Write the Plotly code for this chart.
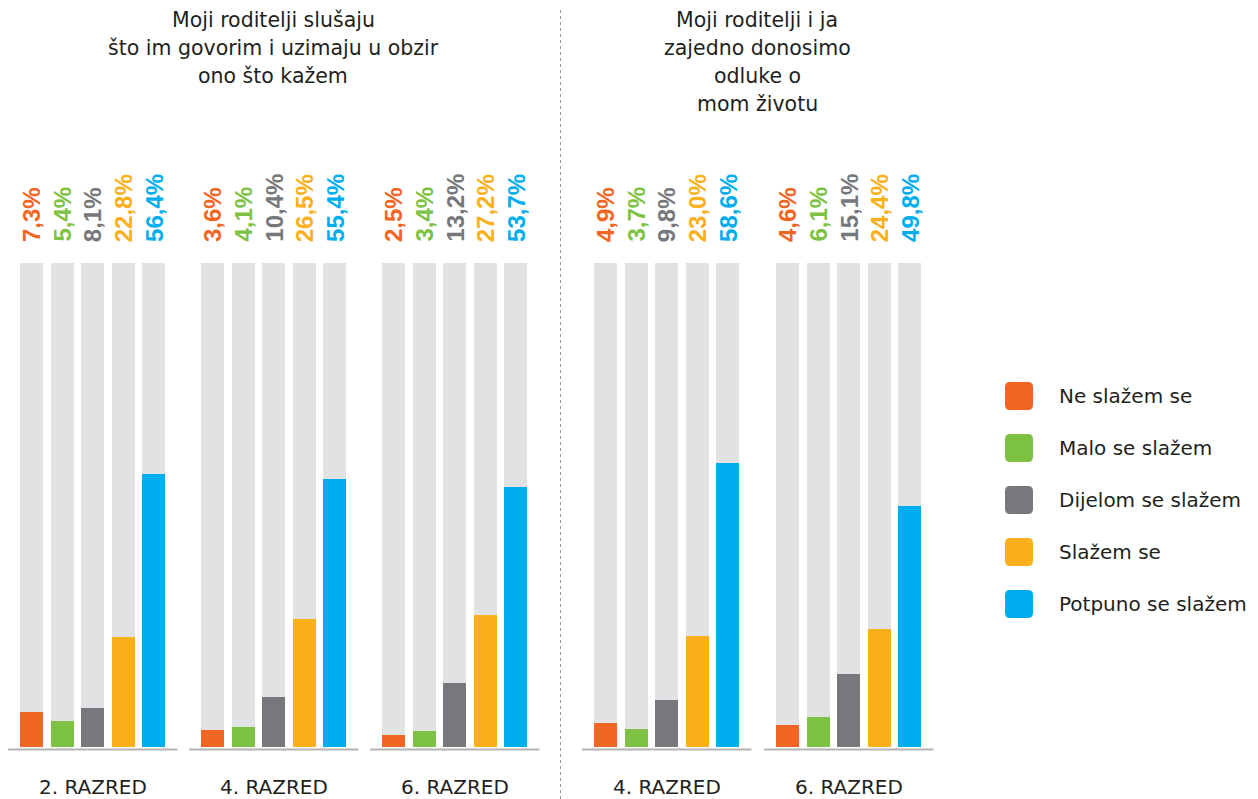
import plotly.graph_objects as go

# ---------------- data ----------------
categories = ["Ne slažem se", "Malo se slažem", "Dijelom se slažem", "Slažem se", "Potpuno se slažem"]
group_labels = ["2. RAZRED", "4. RAZRED", "6. RAZRED", "4. RAZRED", "6. RAZRED"]
panel_titles = [
    ["Moji roditelji slušaju", "što im govorim i uzimaju u obzir", "ono što kažem"],
    ["Moji roditelji i ja", "zajedno donosimo", "odluke o", "mom životu"],
]
ne_slazem = [7.3, 3.6, 2.5, 4.9, 4.6]
malo_slazem = [5.4, 4.1, 3.4, 3.7, 6.1]
dijelom_slazem = [8.1, 10.4, 13.2, 9.8, 15.1]
slazem = [22.8, 26.5, 27.2, 23.0, 24.4]
potpuno_slazem = [56.4, 55.4, 53.7, 58.6, 49.8]
series = [ne_slazem, malo_slazem, dijelom_slazem, slazem, potpuno_slazem]

# ---------------- style / layout ----------------
colors = ["#f26522", "#7dc242", "#77787b", "#fbb01a", "#00aeef"]
bg_color = "#e1e2e4"
text_color = "#231f20"
W, H = 1258, 799
group_centers = [92.7, 273.7, 454.7, 666.7, 848.7]
panel_centers = [273, 757]
pitch = 30.6
bar_w = 23
px_per_unit = 4.84
y_zero_px = 747  # from top
ymin = -(H - y_zero_px) / px_per_unit
ymax = ymin + H / px_per_unit


def fmt(v):
    return f"{v:.1f}".replace(".", ",") + "%"


def py(p):  # pixel from top -> paper
    return 1 - p / H


fig = go.Figure()
annotations = []
shapes = []

for si, (name, vals, col) in enumerate(zip(categories, series, colors)):
    xs = [gc + (si - 2) * pitch for gc in group_centers]
    fig.add_trace(go.Bar(x=xs, y=[100] * len(xs), width=bar_w, marker=dict(color=bg_color, line=dict(width=0)),
                         showlegend=False, hoverinfo="skip"))
    fig.add_trace(go.Bar(x=xs, y=vals, width=bar_w, name=name, marker=dict(color=col, line=dict(width=0)),
                         showlegend=False))
    for x, v in zip(xs, vals):
        annotations.append(dict(x=x, y=100, xref="x", yref="y", text=fmt(v), textangle=-90, showarrow=False,
                                xanchor="center", yanchor="bottom", yshift=19,
                                font=dict(family="Liberation Sans", size=24, color=col, weight="bold")))

# group baselines and x labels
for gc, lab in zip(group_centers, group_labels):
    shapes.append(dict(type="line", xref="x", yref="paper", x0=gc - 2 * pitch - bar_w / 2 - 12,
                       x1=gc + 2 * pitch + bar_w / 2 + 12, y0=py(749.5), y1=py(749.5),
                       line=dict(color="#b3b3b3", width=2)))
    annotations.append(dict(x=gc, y=py(787), xref="x", yref="paper", text=lab, showarrow=False,
                            xanchor="center", yanchor="middle",
                            font=dict(family="DejaVu Sans", size=20, color=text_color)))

# panel titles
for pc, lines in zip(panel_centers, panel_titles):
    for li, t in enumerate(lines):
        annotations.append(dict(x=pc, y=py(20 + 28 * li), xref="x", yref="paper", text=t, showarrow=False,
                                xanchor="center", yanchor="middle",
                                font=dict(family="DejaVu Sans", size=20.5, color=text_color)))

# separator
shapes.append(dict(type="line", xref="x", yref="paper", x0=560.5, x1=560.5, y0=py(10), y1=0,
                   line=dict(color="#9a9a9a", width=1, dash="dot")))

# legend
r = 5
for i, (name, col) in enumerate(zip(categories, colors)):
    cy = 396 + 52 * i
    x0, x1 = 1005, 1033
    y0, y1 = py(cy - 14), py(cy + 14)
    dy = r / H
    path = (f"M {x0 + r},{y0} L {x1 - r},{y0} Q {x1},{y0} {x1},{y0 - dy} "
            f"L {x1},{y1 + dy} Q {x1},{y1} {x1 - r},{y1} L {x0 + r},{y1} Q {x0},{y1} {x0},{y1 + dy} "
            f"L {x0},{y0 - dy} Q {x0},{y0} {x0 + r},{y0} Z")
    shapes.append(dict(type="path", xref="x", yref="paper", path=path, fillcolor=col, line=dict(width=0)))
    annotations.append(dict(x=1057, y=py(cy), xref="x", yref="paper", text=name, showarrow=False,
                            xanchor="left", yanchor="middle",
                            font=dict(family="DejaVu Sans", size=20, color=text_color)))

fig.update_layout(
    width=W, height=H,
    margin=dict(l=0, r=0, t=0, b=0),
    paper_bgcolor="white", plot_bgcolor="white",
    barmode="overlay", bargap=0,
    xaxis=dict(range=[0, W], visible=False, fixedrange=True),
    yaxis=dict(range=[ymin, ymax], visible=False, fixedrange=True),
    annotations=annotations, shapes=shapes,
    showlegend=False,
)

fig.write_html("out.html", config={"displayModeBar": False},
               post_script="document.body.style.margin='0';document.body.style.overflow='hidden';")
